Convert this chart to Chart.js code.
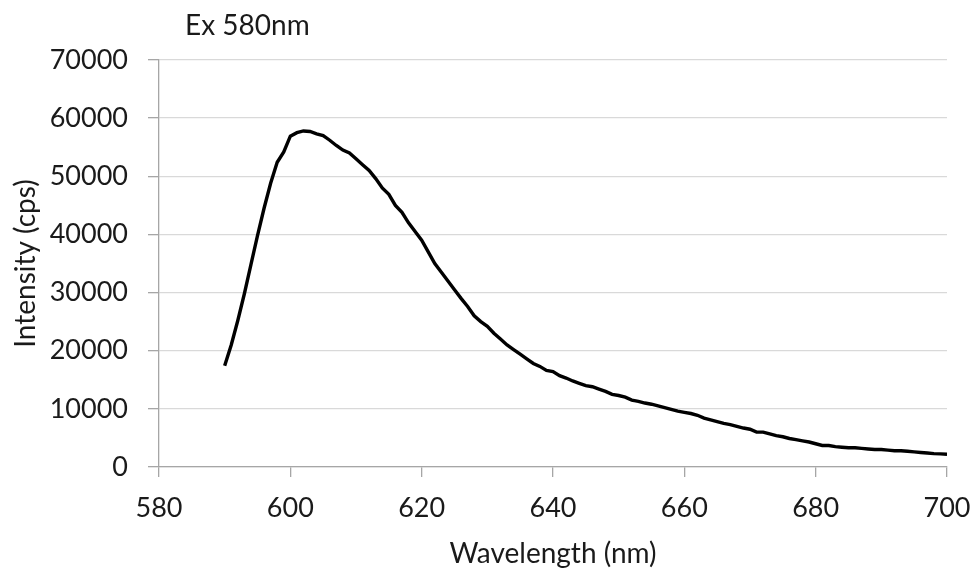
<!DOCTYPE html>
<html>
<head>
<meta charset="utf-8">
<script src="https://cdn.jsdelivr.net/npm/chart.js@4.4.1/dist/chart.umd.min.js"></script>
<style>
  html, body { margin: 0; padding: 0; background: #ffffff; }
  #wrap { width: 975px; height: 571px; position: relative; }
</style>
</head>
<body>
<div id="wrap"><canvas id="c" width="975" height="571"></canvas></div>
<script>
const chartTitle = "Ex 580nm";
const xAxisTitle = "Wavelength (nm)";
const yAxisTitle = "Intensity (cps)";
const xTicks = [580, 600, 620, 640, 660, 680, 700];
const yTicks = [0, 10000, 20000, 30000, 40000, 50000, 60000, 70000];

const wavelength = [];
for (let w = 590; w <= 700; w++) wavelength.push(w);

// intensity in thousands of cps, one per nm from 590 to 700
const intensityK = [
  17.4, 21.0, 25.2, 29.8, 34.8, 39.8, 44.5, 48.8, 52.4, 54.2,
  56.9, 57.5, 57.8, 57.7, 57.3, 57.0, 56.2, 55.3, 54.5, 54.0,
  53.0, 52.0, 51.0, 49.6, 48.0, 46.9, 45.0, 43.8, 42.0, 40.5,
  39.0, 37.0, 35.0, 33.5, 32.0, 30.5, 29.0, 27.6, 26.0, 25.0,
  24.2, 23.0, 22.0, 21.0, 20.2, 19.4, 18.6, 17.8, 17.3, 16.6,
  16.4, 15.7, 15.3, 14.8, 14.4, 14.0, 13.8, 13.4, 13.0, 12.5,
  12.3, 12.0, 11.5, 11.3, 11.0, 10.8, 10.5, 10.2, 9.9, 9.6,
  9.4, 9.2, 8.9, 8.4, 8.1, 7.8, 7.5, 7.3, 7.0, 6.7,
  6.5, 6.0, 6.0, 5.7, 5.4, 5.2, 4.9, 4.7, 4.5, 4.3,
  4.0, 3.7, 3.7, 3.5, 3.4, 3.3, 3.3, 3.2, 3.1, 3.0,
  3.0, 2.9, 2.8, 2.8, 2.7, 2.6, 2.5, 2.4, 2.3, 2.25,
  2.2
];

const points = wavelength.map((w, i) => ({ x: w, y: intensityK[i] * 1000 }));

const FONT = "Lato, 'Open Sans', sans-serif";
const TEXT = "#1a1a1a";
const AXIS = "#a6a6a6";
const GRID = "#d9d9d9";

const titlePlugin = {
  id: 'leftTitle',
  afterDraw(chart) {
    const ctx = chart.ctx;
    ctx.save();
    ctx.font = "28px " + FONT;
    ctx.fillStyle = TEXT;
    ctx.textBaseline = 'alphabetic';
    ctx.textAlign = 'left';
    ctx.fillText(chartTitle, 185, 35);
    ctx.restore();
  }
};

new Chart(document.getElementById('c'), {
  type: 'line',
  data: {
    datasets: [{
      data: points,
      borderColor: '#000000',
      borderWidth: 3.4,
      pointRadius: 0,
      tension: 0,
      fill: false
    }]
  },
  options: {
    responsive: false,
    animation: false,
    events: [],
    layout: { padding: { top: 60, right: 28, left: 9, bottom: 0 } },
    plugins: { legend: { display: false }, tooltip: { enabled: false } },
    scales: {
      x: {
        type: 'linear',
        min: 580, max: 700,
        afterBuildTicks(scale) { scale.ticks = xTicks.map(v => ({ value: v })); },
        afterFit(scale) { scale.height = 104; scale.paddingLeft = 0; scale.paddingRight = 0; },
        ticks: {
          color: TEXT, font: { family: FONT, size: 27 }, padding: 15,
          maxRotation: 0, callback: v => String(v)
        },
        grid: { drawOnChartArea: false, tickLength: 10, tickColor: AXIS, lineWidth: 1.3 },
        border: { color: AXIS, width: 1.3 },
        title: {
          display: true, text: xAxisTitle, color: TEXT,
          font: { family: FONT, size: 28 }, padding: { top: 2, bottom: 0 }
        }
      },
      y: {
        min: 0, max: 70000,
        afterBuildTicks(scale) { scale.ticks = yTicks.map(v => ({ value: v })); },
        afterFit(scale) { scale.width = 150; scale.paddingTop = 0; scale.paddingBottom = 0; },
        ticks: {
          color: TEXT, font: { family: FONT, size: 27 }, padding: 20,
          callback: v => String(v)
        },
        grid: { color: GRID, lineWidth: 1.3, tickLength: 11, tickColor: AXIS },
        border: { color: AXIS, width: 1.3 },
        title: {
          display: true, text: yAxisTitle, color: TEXT,
          font: { family: FONT, size: 28 }, padding: { top: 0, bottom: 0 }
        }
      }
    }
  },
  plugins: [titlePlugin]
});
</script>
</body>
</html>
